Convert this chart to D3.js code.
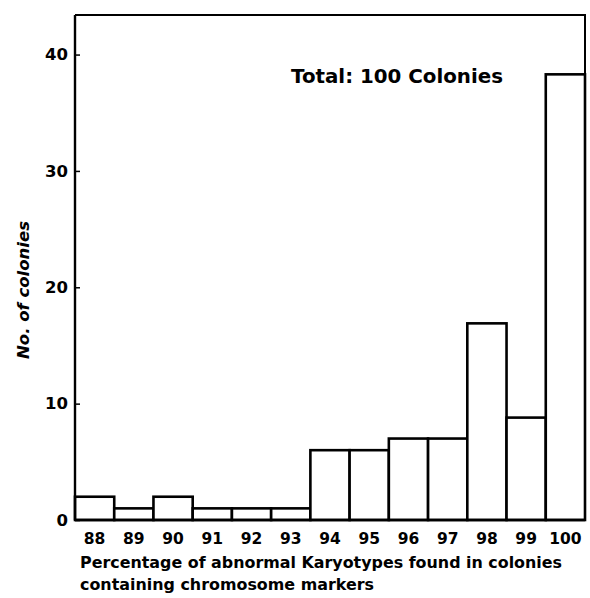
<!DOCTYPE html>
<html>
<head>
<meta charset="utf-8">
<script src="https://cdn.jsdelivr.net/npm/d3@7"></script>
<style>
body{margin:0;background:#fff;}
svg{display:block;font-family:"DejaVu Sans","Liberation Sans",Arial,sans-serif;}
</style>
</head>
<body>
<svg id="chart" width="590" height="598"></svg>
<script>
const categories = ["88","89","90","91","92","93","94","95","96","97","98","99","100"];
const colonies = [2,1,2,1,1,1,6,6,7,7,16.9,8.8,38.3];
const yTicks = [0,10,20,30,40];
const titleText = "Total: 100 Colonies";
const yLabel = "No. of colonies";
const xLabelLines = ["Percentage of abnormal Karyotypes found in colonies","containing chromosome markers"];

(function(){
const svg = d3.select("#chart");
const mLeft = 75, mRight = 585, mTop = 15, mBottom = 520;
const x = d3.scaleBand().domain(categories).range([mLeft,mRight]).padding(0);
const y = d3.scaleLinear().domain([0,43.4]).range([mBottom,mTop]);

// frame top & right
svg.append("path")
  .attr("d", `M${mLeft},${mTop}H${mRight}V${mBottom}`)
  .attr("fill","none").attr("stroke","#000").attr("stroke-width",2);

// bars
svg.append("g").selectAll("rect").data(categories).join("rect")
  .attr("x", d => x(d))
  .attr("y", (d,i) => y(colonies[i]))
  .attr("width", x.bandwidth())
  .attr("height", (d,i) => y(0) - y(colonies[i]))
  .attr("fill","#fff").attr("stroke","#000").attr("stroke-width",2.6);

// y axis
const yAxis = d3.axisLeft(y).tickValues(yTicks).tickSize(-5).tickPadding(7);
const gy = svg.append("g").attr("transform",`translate(${mLeft},0)`).call(yAxis);
gy.select(".domain").attr("stroke-width",2.4).attr("d",`M0,${mTop}V${mBottom}`);
gy.selectAll(".tick line").attr("stroke-width",1.5);
gy.selectAll(".tick text").attr("font-size",16.5).attr("font-weight","bold").attr("fill","#000")
  .attr("font-family","DejaVu Sans");

// x axis
const xAxis = d3.axisBottom(x).tickSize(0).tickPadding(13);
const gx = svg.append("g").attr("transform",`translate(0,${mBottom})`).call(xAxis);
gx.select(".domain").attr("stroke-width",2.4).attr("d",`M${mLeft},0H${mRight}`);
gx.selectAll(".tick text").attr("font-size",15.5).attr("font-weight","bold").attr("fill","#000")
  .attr("font-family","DejaVu Sans");

// title
svg.append("text").attr("x",291).attr("y",83)
  .attr("font-size",19).attr("font-weight","bold")
  .attr("textLength",212).attr("lengthAdjust","spacingAndGlyphs").text(titleText);

// y label
svg.append("text").attr("transform","translate(29,290) rotate(-90)")
  .attr("text-anchor","middle").attr("font-size",15).attr("font-weight","bold")
  .attr("font-style","italic")
  .attr("textLength",138).attr("lengthAdjust","spacingAndGlyphs").text(yLabel);

// x label
const xLabelWidths = [482, 294];
svg.append("g").selectAll("text").data(xLabelLines).join("text")
  .attr("x",80).attr("y",(d,i)=>568+i*22)
  .attr("font-size",16).attr("font-weight","bold")
  .attr("textLength",(d,i)=>xLabelWidths[i]).attr("lengthAdjust","spacingAndGlyphs")
  .text(d=>d);
})();
</script>
</body>
</html>
